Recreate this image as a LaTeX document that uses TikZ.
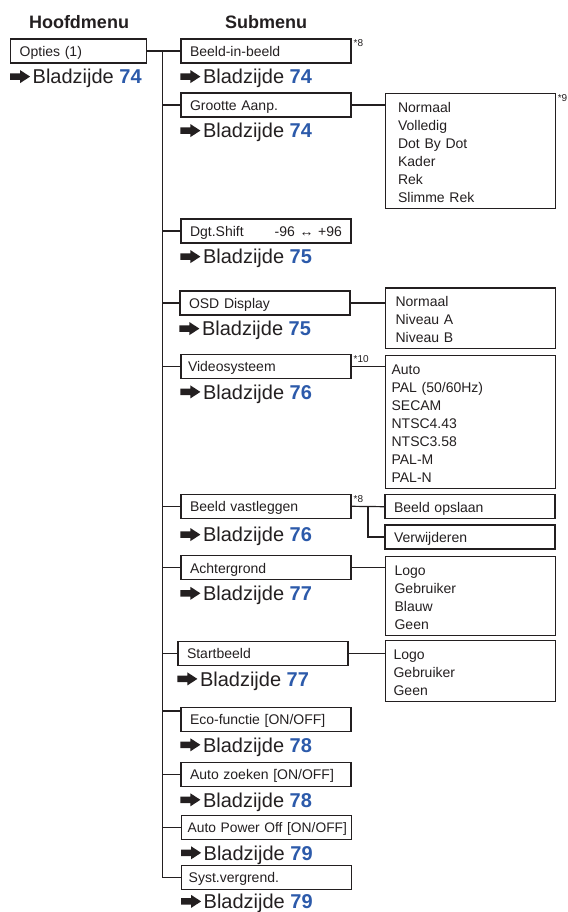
\documentclass[tikz,border=0pt]{standalone}
\usepackage{fontspec}
\setmainfont{Liberation Sans}
\usetikzlibrary{positioning, calc}
\definecolor{paginablauw}{RGB}{44,90,170}
\definecolor{inkt}{RGB}{35,31,32}

\begin{document}
\begin{tikzpicture}[
      x=1pt, y=-1pt,
      color=inkt,
      line width=1.2pt,
      kop/.style={inner sep=0pt, font=\fontsize{18}{22}\selectfont\bfseries},
      menu/.style={rectangle, draw, minimum width=170pt, minimum height=24pt, inner xsep=9pt, text width=152pt, align=left, text height=12pt, text depth=1pt, font=\fontsize{14}{17}\selectfont},
      lijst/.style={rectangle, draw, anchor=north west, inner xsep=10pt, inner ysep=6pt, text width=150pt, align=left, execute at begin node=\strut, font=\fontsize{14}{18}\selectfont},
      noot/.style={anchor=north west, inner sep=0pt, xshift=1.5pt, yshift=-1pt, font=\fontsize{10}{12}\selectfont},
      pics/verwijzing/.style={code={
        \fill (0,-3.3) -- (10,-3.3) -- (10,-6.5) -- (20,0) -- (10,6.5) -- (10,3.3) -- (0,3.3) -- cycle;
        \node[anchor=base west, inner sep=0pt, font=\fontsize{20}{24}\selectfont] (-tekst) at (22,7.2) {Bladzijde \textbf{\color{paginablauw}#1}};
      }}
      ]
      \useasboundingbox (0,0) rectangle (567,912);

      % Koppen
      \node[kop] (hoofdmenu) at (79,22) {Hoofdmenu};
      \node[kop] (submenu) at (266,22) {Submenu};

      % Hoofdmenu
      \node[menu, minimum width=136pt, text width=118pt] (opties) at (78.7,51) {Opties (1)};

      % Submenu
      \node[menu] (bib) at (266,51) {Beeld-in-beeld};
      \node[menu] (grootte) at (266,105) {Grootte Aanp.};
      \node[menu] (dgt) at (266,231) {Dgt.Shift\hfill -96 ↔ +96};
      \node[menu] (osd) at (265,303) {OSD Display};
      \node[menu, inner xsep=7pt, text width=156pt] (video) at (266,366.3) {Videosysteem};
      \node[menu] (vastleggen) at (266,506.3) {Beeld vastleggen};
      \node[menu] (achtergrond) at (266,567.7) {Achtergrond};
      \node[menu] (startbeeld) at (263,653.3) {Startbeeld};
      \node[menu] (eco) at (266,719.2) {Eco-functie [ON/OFF]};
      \node[menu] (zoeken) at (266,774.2) {Auto zoeken [ON/OFF]};
      \node[menu, inner xsep=6pt, text width=158pt, font=\fontsize{13.8}{17}\selectfont] (power) at (266.7,827.2) {\mbox{Auto Power Off [ON/OFF]}};
      \node[menu, inner xsep=7pt, text width=156pt] (syst) at (266.7,877.3) {Syst.vergrend.};

      % Instellingen
      \node[lijst, inner xsep=13pt, text width=144pt] (grootteLijst) at (384.5,93) {Normaal\\Volledig\\Dot By Dot\\Kader\\Rek\\Slimme Rek};
      \node[lijst] (osdLijst) at (385,287.3) {Normaal\\Niveau A\\Niveau B};
      \node[lijst, inner xsep=6pt, text width=158pt] (videoLijst) at (385,355) {Auto\\PAL (50/60Hz)\\SECAM\\NTSC4.43\\NTSC3.58\\PAL-M\\PAL-N};
      \node[menu] (opslaan) at (470,506.7) {Beeld opslaan};
      \node[menu] (verwijderen) at (470,537) {Verwijderen};
      \node[lijst, inner xsep=9pt, text width=152pt] (achtergrondLijst) at (385,556) {Logo\\Gebruiker\\Blauw\\Geen};
      \node[lijst, inner xsep=8pt, text width=154pt] (startLijst) at (385,640) {Logo\\Gebruiker\\Geen};

      % Voetnoten
      \node[noot] (noot8a) at (bib.north east) {*8};
      \node[noot] (noot9) at (grootteLijst.north east) {*9};
      \node[noot] (noot10) at (video.north east) {*10};
      \node[noot] (noot8b) at (vastleggen.north east) {*8};

      % Verwijzingen
      \pic (refopties) at ([yshift=-13pt]opties.south west) {verwijzing=74};
      \pic (refbib) at ([yshift=-13pt]bib.south west) {verwijzing=74};
      \pic (refgrootte) at ([yshift=-13pt]grootte.south west) {verwijzing=74};
      \pic (refdgt) at ([yshift=-13pt]dgt.south west) {verwijzing=75};
      \pic (refosd) at ([yshift=-13pt]osd.south west) {verwijzing=75};
      \pic (refvideo) at ([yshift=-13pt]video.south west) {verwijzing=76};
      \pic (refvastleggen) at ([yshift=-15.7pt]vastleggen.south west) {verwijzing=76};
      \pic (refachtergrond) at ([yshift=-13pt]achtergrond.south west) {verwijzing=77};
      \pic (refstartbeeld) at ([yshift=-13pt]startbeeld.south west) {verwijzing=77};
      \pic (refeco) at ([yshift=-13pt]eco.south west) {verwijzing=78};
      \pic (refzoeken) at ([yshift=-13pt]zoeken.south west) {verwijzing=78};
      \pic (refpower) at ([yshift=-13pt]power.south west) {verwijzing=79};
      \pic (refsyst) at ([yshift=-11.5pt]syst.south west) {verwijzing=79};

      % Lijnen
      \coordinate (stam) at (162.5,51);
      \draw (opties.east) -- (bib.west);
      \draw (stam) |- (syst.west);
      \foreach \sub in {grootte, dgt, osd, video, vastleggen, achtergrond, startbeeld, zoeken, power}
        \draw (stam |- \sub.west) -- (\sub.west);
      \draw ($(stam |- eco.north west)+(0,4.4)$) -- ($(eco.north west)+(0,4.4)$);
      \foreach \sub/\keuze in {grootte/grootteLijst, osd/osdLijst, video/videoLijst, achtergrond/achtergrondLijst, startbeeld/startLijst}
        \draw (\sub.east) -- (\sub.east -| \keuze.west);
      \draw (vastleggen.east) -- (opslaan.west);
      \coordinate (splitsing) at ($(vastleggen.east)!0.5!(opslaan.west)$);
      \draw (splitsing) |- (verwijderen.west);
    \end{tikzpicture}
\end{document}
